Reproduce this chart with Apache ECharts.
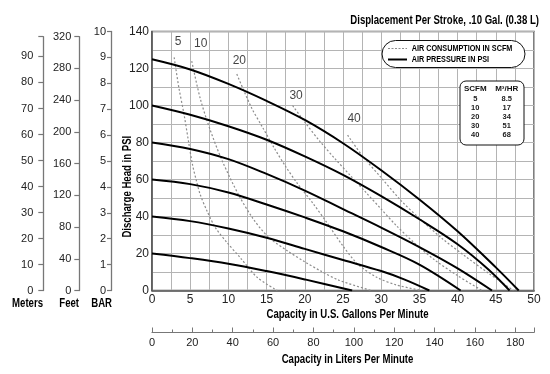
<!DOCTYPE html>
<html>
<head>
<meta charset="utf-8">
<script src="https://cdn.jsdelivr.net/npm/echarts@6/dist/echarts.min.js"></script>
<style>html,body{margin:0;padding:0;background:#fff}#c{width:550px;height:374px}</style>
</head>
<body>
<div id="c"></div>
<script>
// ---- data ----
const pressure120 = [[0,125],[5,119.5],[10,111.7],[15,102.5],[20,92.2],[25,79.6],[30,65],[35,49.2],[40,32],[45,12.5],[48,0]];
const pressure100 = [[0,100],[5,95],[10,88.8],[15,81.5],[20,72.5],[25,62.5],[30,51],[35,38.5],[40,25],[44,11.5],[46.8,0]];
const pressure80  = [[0,80],[5,76.5],[10,71],[15,63],[20,54],[25,44],[30,34],[35,23.5],[40,12],[44.5,0]];
const pressure60  = [[0,60],[5,57.5],[10,53],[15,46.5],[20,39.5],[25,32],[30,23.5],[35,14],[40.4,0]];
const pressure40  = [[0,40],[5,37.5],[10,33.5],[15,28.5],[20,22.5],[25,16.5],[30,10.5],[33,6],[36.3,0]];
const pressure20  = [[0,20],[5,17.5],[10,14.5],[15,10.5],[20,6],[26.2,0]];

const air5  = [[2.9,126],[3.5,110],[4.2,95],[4.8,80],[5.3,68],[5.8,59.5],[6.3,52],[7.2,43],[8.3,34],[9.8,26],[11.6,17.5],[13.8,7],[16.4,0]];
const air10 = [[5.2,124],[6.3,104],[7.6,87],[9.2,70],[11.3,52],[13.2,39],[15.2,29],[17.7,21.5],[20,15.5],[22.1,10.5],[24.5,5.5],[28.7,0]];
const air20 = [[11.1,117],[13,99],[14.5,88],[16,77],[17.5,67],[19,58],[21,47.5],[23,36],[25,24],[27,14],[29.5,7],[32,3],[35.3,0]];
const air30 = [[18.4,100],[20,91],[22,80.5],[24,71],[26,62],[28,53],[30,44],[32,35],[34.4,25.5],[37,16.5],[40,8],[43.2,0]];
const air40 = [[25.6,84],[27.6,72.5],[30,61],[32.6,48.6],[35,39],[38,28],[41,18.5],[44,9.5],[47.3,0]];

const airLabels = ['5','10','20','30','40'];
const tableScfm = ['5','10','20','30','40'];
const tableM3hr = ['8.5','17','34','51','68'];
const legendNames = ['AIR CONSUMPTION IN SCFM','AIR PRESSURE IN PSI'];

const LITERS_MAX = 50 * 3.7854;   // 50 GPM in L/min
const METERS_MAX = 97.6;

// ---- styles ----
const F = '"Liberation Sans",Arial,Helvetica,sans-serif';
const LABEL_OFFSETS = [[4,-4.5],[9,-6],[2.5,-2.5],[3.5,1.5],[6.5,-5.5]];
const GRIDC = '#b4b4b4';
const AIRC = '#8c8c8c';
const NARROW = 0.78;

const pressureCurves = [pressure120, pressure100, pressure80, pressure60, pressure40, pressure20];
const airCurves = [air5, air10, air20, air30, air40];

const series = [];
pressureCurves.forEach(d => series.push({
  type:'line', name:legendNames[1], data:d, smooth:0.35,
  symbol:'none', lineStyle:{color:'#000', width:2}, itemStyle:{color:'#000'}, silent:true, z:3
}));
airCurves.forEach(d => series.push({
  type:'line', name:legendNames[0], data:d, smooth:0.3,
  symbol:'none', lineStyle:{color:AIRC, width:1.2, type:[2,2]}, itemStyle:{color:AIRC}, silent:true, z:2
}));
series.push({
  type:'scatter', name:'labels', symbolSize:0, silent:true, z:4,
  itemStyle:{color:'rgba(0,0,0,0)'},
  label:{show:true, position:'top', fontSize:12, fontFamily:F, color:'#111'},
  data: airCurves.map((c,i) => ({value:c[0], label:{formatter:airLabels[i], offset:LABEL_OFFSETS[i]}}))
});

let tableText = '{h|SCFM}{h|M³/HR}';
tableScfm.forEach((s,i) => { tableText += '\n{c|' + s + '}{c|' + tableM3hr[i] + '}'; });

function leftAxis(grid, max, interval, margin, tick, hideNonMultiple) {
  return {
    gridIndex:grid, type:'value', min:0, max:max, interval:interval, position:'left',
    axisLine:{show:true, onZero:false, lineStyle:{color:'#777', width:1.3}},
    axisTick:{show:true, length:tick, lineStyle:{color:'#777', width:1.2}},
    axisLabel:{fontSize:11, fontFamily:F, color:'#222', margin:margin,
      formatter: v => (hideNonMultiple && Math.abs(v % interval) > 1e-6) ? '' : String(v)},
    splitLine:{show:false}
  };
}

function narrowText(text, x, y, align, size, extra) {
  return Object.assign({type:'text', x:x, y:y, scaleX:NARROW, silent:true, z:100,
    style:{text:text, font:'bold ' + size + 'px ' + F, fill:'#000', align:align, verticalAlign:'middle'}}, extra || {});
}

const chart = echarts.init(document.getElementById('c'), null, {renderer:'canvas'});
chart.setOption({
  animation:false,
  backgroundColor:'#fff',
  title:[
    {text:tableText, left:459.5, top:79.5, padding:[4,1.5,6,0],
     borderColor:'#111', borderWidth:1, borderRadius:6, backgroundColor:'#fff', z:10,
     textStyle:{rich:{
       h:{fontFamily:F, fontWeight:'bold', fontSize:8, width:31.5, align:'center', lineHeight:10.4, color:'#111'},
       c:{fontFamily:F, fontSize:7.5, width:31.5, align:'center', lineHeight:9.2, color:'#222'}
     }}}
  ],
  grid:[
    {left:152, top:31.5, width:382, height:259, show:true, borderColor:'#555', borderWidth:1.5, backgroundColor:'transparent'},
    {left:111, top:31.5, width:1, height:259},
    {left:79.3, top:36.7, width:1, height:253.8},
    {left:43.3, top:36.7, width:1, height:253.8},
    {left:152, top:300, width:382, height:32.5}
  ],
  xAxis:[
    {gridIndex:0, type:'value', min:0, max:50, interval:5,
     axisLine:{show:true, onZero:false, lineStyle:{color:'#555', width:1.5}},
     axisTick:{show:false},
     axisLabel:{fontSize:12, fontFamily:F, color:'#222', margin:3},
     splitLine:{show:true, lineStyle:{color:GRIDC, width:1}},
     minorTick:{show:false, splitNumber:2},
     minorSplitLine:{show:true, lineStyle:{color:GRIDC, width:1}}},
    {gridIndex:1, show:false, min:0, max:1},
    {gridIndex:2, show:false, min:0, max:1},
    {gridIndex:3, show:false, min:0, max:1},
    {gridIndex:4, type:'value', min:0, max:LITERS_MAX, interval:20, position:'bottom',
     axisLine:{show:true, onZero:false, lineStyle:{color:'#777', width:1.2}},
     axisTick:{show:true, inside:true, length:5, lineStyle:{color:'#777'}},
     minorTick:{show:true, splitNumber:2, length:3, lineStyle:{color:'#777'}},
     axisLabel:{fontSize:11, fontFamily:F, color:'#222', margin:5,
       formatter: v => (Math.abs(v % 20) > 1e-6) ? '' : String(v)},
     splitLine:{show:false}}
  ],
  yAxis:[
    {gridIndex:0, type:'value', min:0, max:140, interval:20,
     axisLine:{show:true, onZero:false, lineStyle:{color:'#555', width:1.5}},
     axisTick:{show:false},
     axisLabel:{fontSize:12, fontFamily:F, color:'#222', margin:3},
     splitLine:{show:true, lineStyle:{color:GRIDC, width:1}},
     minorSplitLine:{show:true, lineStyle:{color:GRIDC, width:1}},
     minorTick:{show:false, splitNumber:2}},
    leftAxis(1, 10, 1, 5, 4, false),
    leftAxis(2, 320, 40, 8, 5, false),
    leftAxis(3, METERS_MAX, 10, 10, 5, true),
    {gridIndex:4, show:false, min:0, max:1}
  ],
  graphic:[
    narrowText('Displacement Per Stroke, .10 Gal. (0.38 L)', 539, 20.5, 'right', 12.3),
    narrowText('Capacity in U.S. Gallons Per Minute', 347.5, 315, 'center', 12.3),
    narrowText('Capacity in Liters Per Minute', 347.5, 359.3, 'center', 12.3),
    narrowText('Discharge Head in PSI', 127.5, 186.7, 'center', 12.3, {rotation:Math.PI/2}),
    narrowText('Meters', 43, 304, 'right', 12.3),
    narrowText('Feet', 79, 304, 'right', 12.3),
    narrowText('BAR', 112, 304, 'right', 12.3),
    // legend box
    {type:'rect', silent:true, z:95, shape:{x:382, y:40.5, width:143, height:27, r:13.5},
     style:{fill:'#fff', stroke:'#111', lineWidth:1}},
    {type:'line', silent:true, z:96, shape:{x1:388, y1:48.5, x2:407, y2:48.5},
     style:{stroke:AIRC, lineWidth:1.2, lineDash:[2,1.5]}},
    {type:'line', silent:true, z:96, shape:{x1:388, y1:59.5, x2:407, y2:59.5},
     style:{stroke:'#000', lineWidth:2}},
    narrowText(legendNames[0], 411.7, 48.5, 'left', 9.3),
    narrowText(legendNames[1], 411.7, 59.5, 'left', 9.3)
  ],
  series:series
});
</script>
</body>
</html>
